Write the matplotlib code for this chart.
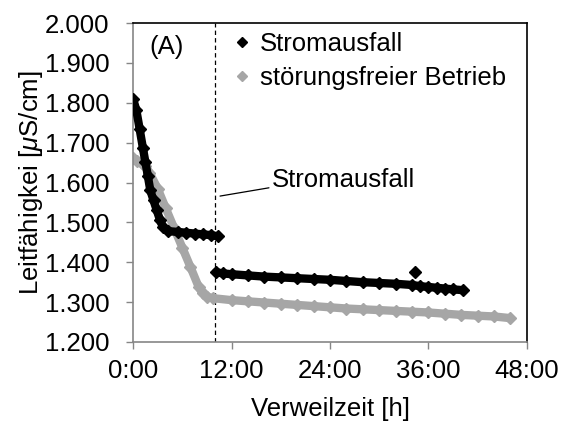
import matplotlib.pyplot as plt
from matplotlib.lines import Line2D

plt.rcParams["font.family"] = ["Liberation Sans", "DejaVu Sans"]
plt.rcParams["mathtext.fontset"] = "custom"
plt.rcParams["mathtext.rm"] = "Liberation Sans"
plt.rcParams["mathtext.it"] = "Liberation Sans:italic"

# Stromausfall series (hours, µS/cm); None splits before/after the outage
t_black = [0.0, 0.4, 0.8, 1.2, 1.5, 1.8, 2.1, 2.5, 2.9, 3.3, 3.65, 4.3,
           5.5, 6.5, 7.5, 8.5, 9.5, 10.4, None,
           10.1, 11, 12, 14, 16, 18, 20, 22, 24, 26, 28, 30, 32, 34,
           35, 36, 37, 38, 39, 40.2]
v_black = [1.810, 1.782, 1.735, 1.687, 1.652, 1.617, 1.581, 1.555, 1.530,
           1.505, 1.488, 1.478, 1.476, 1.474, 1.472, 1.470, 1.468, 1.465,
           None,
           1.375, 1.372, 1.370, 1.367, 1.364, 1.362, 1.360, 1.358, 1.356,
           1.353, 1.350, 1.348, 1.346, 1.343, 1.340, 1.338, 1.336, 1.334,
           1.332, 1.330]
t_outlier = [34.3]
v_outlier = [1.375]

# störungsfreier Betrieb
t_gray = [0.0, 0.5, 1.1, 1.5, 2, 3, 4, 5, 6, 7, 8, 8.5, 9, 9.7, 12, 14, 16,
          18, 20, 22, 24, 26, 28, 30, 32, 34, 36, 38, 40, 42, 44, 45.9]
v_gray = [1.661, 1.655, 1.649, 1.642, 1.625, 1.585, 1.535, 1.486, 1.437,
          1.388, 1.338, 1.322, 1.314, 1.310, 1.305, 1.302, 1.299, 1.296,
          1.293, 1.290, 1.287, 1.284, 1.282, 1.280, 1.278, 1.276, 1.274,
          1.271, 1.268, 1.266, 1.264, 1.260]

outage_h = 10.0
xticks = [0, 12, 24, 36, 48]
xlabels = ["0:00", "12:00", "24:00", "36:00", "48:00"]
yticks = [1.2, 1.3, 1.4, 1.5, 1.6, 1.7, 1.8, 1.9, 2.0]

black = "#000000"
gray = "#A6A6A6"
axgray = "#868686"

fig = plt.figure(figsize=(5.62, 4.23), dpi=100)
ax = fig.add_axes([0.2367, 0.1915, 0.701, 0.754])

def clean(t, v):
    return ([float("nan") if a is None else a for a in t],
            [float("nan") if b is None else b for b in v])

tg, vg = clean(t_gray, v_gray)
tb, vb = clean(t_black, v_black)
ax.plot(tg, vg, color=gray, lw=6, marker="D", ms=6, solid_capstyle="round", zorder=2)
ax.plot(tb, vb, color=black, lw=6, marker="D", ms=6, solid_capstyle="round", zorder=3)
ax.plot(t_outlier, v_outlier, ls="none", color=black, marker="D", ms=6, zorder=3)

ax.axvline(outage_h, color=black, lw=0.9, ls=(0, (3.5, 2.5)), zorder=1)
ax.annotate("Stromausfall", xy=(10.6, 1.566), xytext=(16.9, 1.606),
            fontsize=18.5, va="center", ha="left",
            arrowprops=dict(arrowstyle="-", color=black, lw=0.9,
                            shrinkA=0, shrinkB=0, relpos=(0, 0.2)))
ax.text(2.0, 1.94, "(A)", fontsize=18.5, va="center", ha="left")

ax.set_xlim(0, 48)
ax.set_ylim(1.2, 2.0)
ax.set_xticks(xticks)
ax.set_xticklabels(xlabels)
ax.set_yticks(yticks)
ax.set_yticklabels([f"{y:.3f}" for y in yticks])
ax.tick_params(axis="both", labelsize=18.5, direction="out", length=5,
               width=1, color=axgray)
ax.tick_params(axis="y", pad=12)
ax.tick_params(axis="x", pad=7)
ax.set_xlabel("Verweilzeit [h]", fontsize=18.5, labelpad=10)
ax.set_ylabel(r"Leitfähigkei [$\mu$S/cm]", fontsize=18.5, labelpad=0)

ax.spines["left"].set_color(axgray)
ax.spines["bottom"].set_color(axgray)
ax.spines["top"].set_color(black)
ax.spines["right"].set_color(black)
for s in ax.spines.values():
    s.set_linewidth(1.2)

handles = [Line2D([], [], ls="none", marker="D", ms=5.5, color=black),
           Line2D([], [], ls="none", marker="D", ms=5.5, color=gray)]
ax.legend(handles, ["Stromausfall", "störungsfreier Betrieb"], loc="upper left",
          bbox_to_anchor=(0.23, 1.005), frameon=False, fontsize=18.5,
          handlelength=0.6, handletextpad=0.4, labelspacing=0.4,
          borderaxespad=0)

fig.savefig("out.png", dpi=100)
